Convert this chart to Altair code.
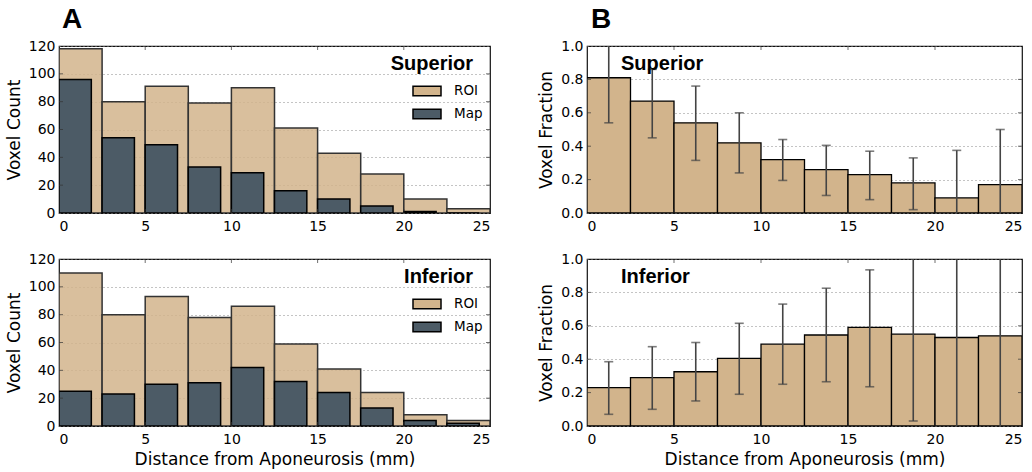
import altair as alt
import pandas as pd

# ---------------- data ----------------
bin_start = [0, 2.5, 5, 7.5, 10, 12.5, 15, 17.5, 20, 22.5]
bin_width = 2.5
map_width = 1.875

sup_roi = [118, 80, 91, 79, 90, 61, 43, 28, 10, 3]
sup_map = [96, 54, 49, 33, 29, 16, 10, 5, 1, 0]
inf_roi = [110, 80, 93, 78, 86, 59, 41, 24, 8, 4]
inf_map = [25, 23, 30, 31, 42, 32, 24, 13, 4, 2]

sup_frac = [0.81, 0.67, 0.54, 0.42, 0.32, 0.26, 0.23, 0.18, 0.09, 0.17]
sup_lo = [0.54, 0.45, 0.315, 0.24, 0.195, 0.105, 0.08, 0.02, -0.1, -0.1]
sup_hi = [1.1, 0.86, 0.76, 0.60, 0.44, 0.405, 0.37, 0.33, 0.375, 0.50]

inf_frac = [0.23, 0.29, 0.325, 0.405, 0.49, 0.545, 0.59, 0.55, 0.53, 0.54]
inf_lo = [0.07, 0.10, 0.15, 0.19, 0.25, 0.265, 0.235, 0.03, -0.1, -0.1]
inf_hi = [0.385, 0.475, 0.50, 0.615, 0.73, 0.825, 0.935, 1.1, 1.1, 1.1]

x_ticks = [0, 5, 10, 15, 20, 25]
count_ticks = [0, 20, 40, 60, 80, 100, 120]
frac_ticks = [0.0, 0.2, 0.4, 0.6, 0.8, 1.0]

series_names = ["ROI", "Map"]
x_title = "Distance from Aponeurosis (mm)"

# ---------------- styling ----------------
TAN = "#D2B48C"
SLATE = "#4C5B66"
W_A, W_B, H = 431, 435, 167
LABEL_FONT = "DejaVu Sans"
BOLD_FONT = "Liberation Sans"

xs = alt.Scale(domain=[0, 25], nice=False, zero=False)


def x_axis(bottom):
    kw = dict(values=x_ticks, grid=False, ticks=False, domain=False,
              labelPadding=6, titlePadding=5, format="d")
    kw["title"] = x_title if bottom else None
    return alt.Axis(**kw)


def edge_ticks(width, ys, yvals, xa, ya):
    tx = pd.DataFrame({"v": x_ticks[1:-1]})
    ty = pd.DataFrame({"v": yvals[1:-1]})
    common = dict(color="#333", clip=True, thickness=1, size=8)
    top = alt.Chart(tx).mark_tick(orient="vertical", **common).encode(
        x=alt.X("v:Q", scale=xs, axis=xa), y=alt.value(0))
    bot = alt.Chart(tx).mark_tick(orient="vertical", **common).encode(
        x=alt.X("v:Q", scale=xs, axis=xa), y=alt.value(H))
    left = alt.Chart(ty).mark_tick(orient="horizontal", **common).encode(
        y=alt.Y("v:Q", scale=ys, axis=ya), x=alt.value(0))
    right = alt.Chart(ty).mark_tick(orient="horizontal", **common).encode(
        y=alt.Y("v:Q", scale=ys, axis=ya), x=alt.value(width))
    return [top, bot, left, right]


def count_panel(roi, mp, label, bottom, letter=None):
    ys = alt.Scale(domain=[0, 120], nice=False)
    xa = x_axis(bottom)
    ya = alt.Axis(values=count_ticks, title="Voxel Count", grid=True,
                  ticks=False, domain=False, labelPadding=4, titlePadding=5)
    cs = alt.Scale(domain=series_names, range=[TAN, SLATE])
    leg = alt.Legend(title=None, orient="none", legendX=353, legendY=30,
                     symbolType="M-1,-0.34H1V0.34H-1Z", symbolSize=784,
                     symbolStrokeColor="black", symbolStrokeWidth=1.5,
                     symbolOpacity=1,
                     labelFont=LABEL_FONT, labelFontSize=13.5, labelColor="black",
                     labelOffset=12, rowPadding=-2, padding=0)
    df_roi = pd.DataFrame({"start": bin_start, "count": roi, "series": "ROI"})
    df_map = pd.DataFrame({"start": bin_start, "count": mp, "series": "Map"})

    roi_l = alt.Chart(df_roi).transform_calculate(
        end=f"datum.start + {bin_width}"
    ).mark_rect(fillOpacity=0.85, stroke="#333", strokeWidth=1.5, clip=True).encode(
        x=alt.X("start:Q", scale=xs, axis=xa),
        x2="end:Q",
        y=alt.Y("count:Q", scale=ys, axis=ya),
        y2=alt.datum(0),
        color=alt.Color("series:N", scale=cs, legend=leg),
    )
    map_l = alt.Chart(df_map).transform_calculate(
        end=f"datum.start + {map_width}"
    ).mark_rect(fillOpacity=1, stroke="black", strokeWidth=1.5, clip=True).encode(
        x=alt.X("start:Q", scale=xs, axis=xa),
        x2="end:Q",
        y=alt.Y("count:Q", scale=ys, axis=ya),
        y2=alt.datum(0),
        color=alt.Color("series:N", scale=cs, legend=leg),
    )
    txt = alt.Chart(pd.DataFrame({"t": [label]})).mark_text(
        align="right", baseline="alphabetic", font=BOLD_FONT, fontWeight="bold",
        fontSize=20, color="black"
    ).encode(x=alt.value(W_A - 17), y=alt.value(24), text="t:N")
    layers = [roi_l, map_l] + edge_ticks(W_A, ys, count_ticks, xa, ya) + [txt]
    if letter:
        layers.append(alt.Chart(pd.DataFrame({"t": [letter]})).mark_text(
            align="left", baseline="alphabetic", font=BOLD_FONT, fontWeight="bold",
            fontSize=28, color="black"
        ).encode(x=alt.value(3), y=alt.value(-18), text="t:N"))
    return alt.layer(*layers).properties(width=W_A, height=H)


def frac_panel(frac, lo, hi, label, bottom, letter=None):
    ys = alt.Scale(domain=[0, 1], nice=False)
    xa = x_axis(bottom)
    ya = alt.Axis(values=frac_ticks, title="Voxel Fraction", grid=True,
                  ticks=False, domain=False, labelPadding=4, titlePadding=5,
                  format=".1f")
    df = pd.DataFrame({"start": bin_start, "frac": frac, "lo": lo, "hi": hi})
    base = alt.Chart(df).transform_calculate(
        end=f"datum.start + {bin_width}",
        center=f"datum.start + {bin_width} / 2",
    )
    bars = base.mark_rect(fill=TAN, stroke="black", strokeWidth=1.3, clip=True).encode(
        x=alt.X("start:Q", scale=xs, axis=xa),
        x2="end:Q",
        y=alt.Y("frac:Q", scale=ys, axis=ya),
        y2=alt.datum(0),
    )
    err = base.mark_rule(color="#444", strokeWidth=1.6, clip=True).encode(
        x=alt.X("center:Q", scale=xs, axis=xa),
        y=alt.Y("lo:Q", scale=ys, axis=ya),
        y2="hi:Q",
    )
    cap_lo = base.mark_tick(orient="horizontal", size=9, thickness=1.6,
                            color="#444", clip=True).encode(
        x=alt.X("center:Q", scale=xs, axis=xa),
        y=alt.Y("lo:Q", scale=ys, axis=ya),
    )
    cap_hi = base.mark_tick(orient="horizontal", size=9, thickness=1.6,
                            color="#444", clip=True).encode(
        x=alt.X("center:Q", scale=xs, axis=xa),
        y=alt.Y("hi:Q", scale=ys, axis=ya),
    )
    txt = alt.Chart(pd.DataFrame({"t": [label]})).mark_text(
        align="left", baseline="alphabetic", font=BOLD_FONT, fontWeight="bold",
        fontSize=20, color="black"
    ).encode(x=alt.value(34), y=alt.value(24), text="t:N")
    layers = [bars] + edge_ticks(W_B, ys, frac_ticks, xa, ya) + [err, cap_lo, cap_hi, txt]
    if letter:
        layers.append(alt.Chart(pd.DataFrame({"t": [letter]})).mark_text(
            align="left", baseline="alphabetic", font=BOLD_FONT, fontWeight="bold",
            fontSize=28, color="black"
        ).encode(x=alt.value(4), y=alt.value(-18), text="t:N"))
    return alt.layer(*layers).properties(width=W_B, height=H)


col_a = alt.vconcat(
    count_panel(sup_roi, sup_map, "Superior", False, "A"),
    count_panel(inf_roi, inf_map, "Inferior", True),
    spacing=17,
).resolve_scale(color="independent")
col_b = alt.vconcat(
    frac_panel(sup_frac, sup_lo, sup_hi, "Superior", False, "B"),
    frac_panel(inf_frac, inf_lo, inf_hi, "Inferior", True),
    spacing=17,
)

chart = alt.hconcat(col_a, col_b, spacing=46).properties(
    padding={"left": 4, "top": 5, "right": 5, "bottom": 5},
    background="white",
).configure_view(
    stroke="#111", strokeWidth=1.2
).configure_axis(
    labelFont=LABEL_FONT, labelFontSize=14, labelColor="black",
    titleFont=LABEL_FONT, titleFontSize=17, titleFontWeight="normal",
    titleColor="black", gridColor="#888", gridDash=[1, 3], gridWidth=1,
)

chart.save("out.html", embed_options={"renderer": "svg", "actions": False})
